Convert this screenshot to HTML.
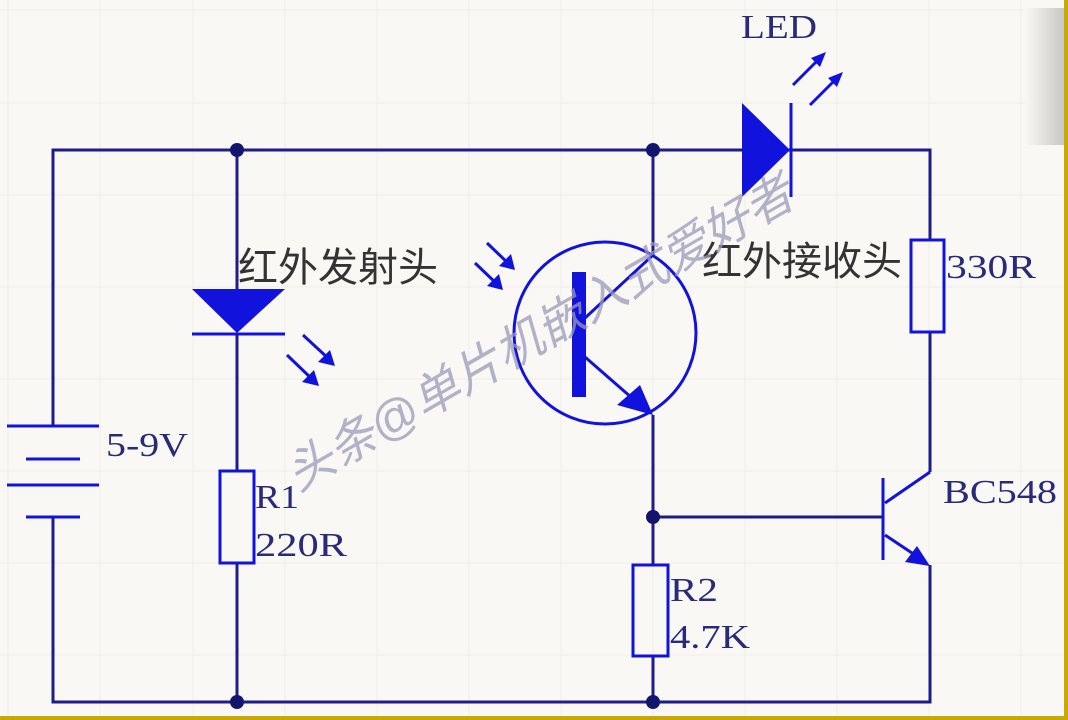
<!DOCTYPE html>
<html><head><meta charset="utf-8"><style>
html,body{margin:0;padding:0;background:#f9f8f4;}
svg{display:block;}
</style></head><body>
<svg width="1068" height="720" viewBox="0 0 1068 720" xmlns="http://www.w3.org/2000/svg">
<defs>
<linearGradient id="g" x1="0" x2="1" y1="0" y2="0">
<stop offset="0" stop-color="#f9f8f4"/><stop offset="1" stop-color="#c8c8c6"/>
</linearGradient>
</defs>
<rect width="1068" height="720" fill="#f9f8f4"/>
<g stroke="#f1f0eb" stroke-width="1.2">
<line x1="8" y1="0" x2="8" y2="720"/><line x1="100" y1="0" x2="100" y2="720"/><line x1="193" y1="0" x2="193" y2="720"/><line x1="285" y1="0" x2="285" y2="720"/><line x1="377" y1="0" x2="377" y2="720"/><line x1="469" y1="0" x2="469" y2="720"/><line x1="561" y1="0" x2="561" y2="720"/><line x1="653" y1="0" x2="653" y2="720"/><line x1="745" y1="0" x2="745" y2="720"/><line x1="837" y1="0" x2="837" y2="720"/><line x1="929" y1="0" x2="929" y2="720"/><line x1="1021" y1="0" x2="1021" y2="720"/>
<line x1="0" y1="10" x2="1068" y2="10"/><line x1="0" y1="103" x2="1068" y2="103"/><line x1="0" y1="195" x2="1068" y2="195"/><line x1="0" y1="287" x2="1068" y2="287"/><line x1="0" y1="379" x2="1068" y2="379"/><line x1="0" y1="471" x2="1068" y2="471"/><line x1="0" y1="563" x2="1068" y2="563"/><line x1="0" y1="655" x2="1068" y2="655"/>
</g>
<rect x="1025" y="8" width="39" height="137" fill="url(#g)"/>
<g stroke="#1c1c8a" stroke-width="3" fill="none">
<polyline points="53,426 53,150 930,150 930,240"/>
<polyline points="53,517 53,702 930,702 930,565"/>
<line x1="237" y1="150" x2="237" y2="289"/>
<line x1="237" y1="334" x2="237" y2="471"/>
<line x1="237" y1="563" x2="237" y2="702"/>
<line x1="653" y1="150" x2="653" y2="255"/>
<line x1="653" y1="415" x2="653" y2="565"/>
<line x1="653" y1="656" x2="653" y2="702"/>
<line x1="653" y1="517" x2="882" y2="517"/>
<line x1="930" y1="332" x2="930" y2="472"/>
</g>
<g fill="#14146e">
<circle cx="237" cy="150" r="7"/><circle cx="653" cy="150" r="7"/><circle cx="237" cy="702" r="7"/><circle cx="653" cy="702" r="7"/><circle cx="653" cy="517" r="7"/>
</g>
<g stroke="#1212dd" stroke-width="3" fill="none">
<line x1="7" y1="426" x2="99" y2="426"/><line x1="26" y1="459" x2="80" y2="459"/><line x1="7" y1="485" x2="99" y2="485"/><line x1="26" y1="517" x2="80" y2="517"/>
<line x1="192" y1="334" x2="285" y2="334"/>
<rect x="220" y="471" width="34" height="92"/>
<rect x="633" y="565" width="35" height="91"/>
<rect x="911" y="240" width="33" height="92"/>
<line x1="791" y1="103" x2="791" y2="197"/>
<circle cx="605" cy="333" r="91"/>
<line x1="585" y1="318" x2="653" y2="255"/>
<line x1="585" y1="357" x2="640" y2="405"/>
<line x1="883" y1="478" x2="883" y2="560"/>
<line x1="885" y1="503" x2="930" y2="472"/>
<line x1="885" y1="535" x2="915" y2="555"/>
<line x1="303" y1="335" x2="330" y2="360"/><line x1="287" y1="355" x2="313" y2="380"/>
<line x1="487" y1="243" x2="510" y2="265"/><line x1="475" y1="263" x2="498" y2="285"/>
<line x1="793" y1="85" x2="820" y2="58"/><line x1="810" y1="105" x2="837" y2="78"/>
</g>
<g fill="#1212dd">
<polygon points="192,289 285,289 237,333"/>
<polygon points="742,103 742,197 790,150"/>
<rect x="572" y="272" width="14" height="125"/>
<polygon points="653,415 617,405 640,385"/>
<polygon points="930,566 905,562 917,546"/>
<polygon points="335,366 318,362 330,350"/><polygon points="319,386 302,382 314,370"/>
<polygon points="515,270 499,266 511,254"/><polygon points="503,290 487,286 499,274"/>
<polygon points="826,52 820,67 811,58"/><polygon points="843,72 837,87 828,78"/>
</g>
<g font-family="'Liberation Serif', serif" font-size="34" fill="#2a2a7a" lengthAdjust="spacingAndGlyphs">
<text x="741" y="38" textLength="76" lengthAdjust="spacingAndGlyphs">LED</text>
<text x="946" y="278" textLength="90" lengthAdjust="spacingAndGlyphs">330R</text>
<text x="106" y="456" textLength="82" lengthAdjust="spacingAndGlyphs">5-9V</text>
<text x="255" y="508" textLength="44" lengthAdjust="spacingAndGlyphs">R1</text>
<text x="255" y="556" textLength="92" lengthAdjust="spacingAndGlyphs">220R</text>
<text x="670" y="601" textLength="48" lengthAdjust="spacingAndGlyphs">R2</text>
<text x="670" y="648" textLength="80" lengthAdjust="spacingAndGlyphs">4.7K</text>
<text x="943" y="503" textLength="114" lengthAdjust="spacingAndGlyphs">BC548</text>
</g>
<g font-family="'Liberation Sans','Noto Sans CJK SC',sans-serif" font-size="40" fill="#333">
<text x="238" y="281">红外发射头</text>
<text x="702" y="275">红外接收头</text>
</g>
<text x="0" y="0" transform="translate(298,492) rotate(-30)" font-family="'Liberation Sans','Noto Sans CJK SC',sans-serif" font-size="48" fill="#9a9ab8" fill-opacity="0.75" font-style="italic">头条@单片机嵌入式爱好者</text>
<rect x="1064" y="0" width="4" height="720" fill="#c9a800"/>
<rect x="0" y="716" width="1068" height="4" fill="#c9a800"/>
</svg>
</body></html>
